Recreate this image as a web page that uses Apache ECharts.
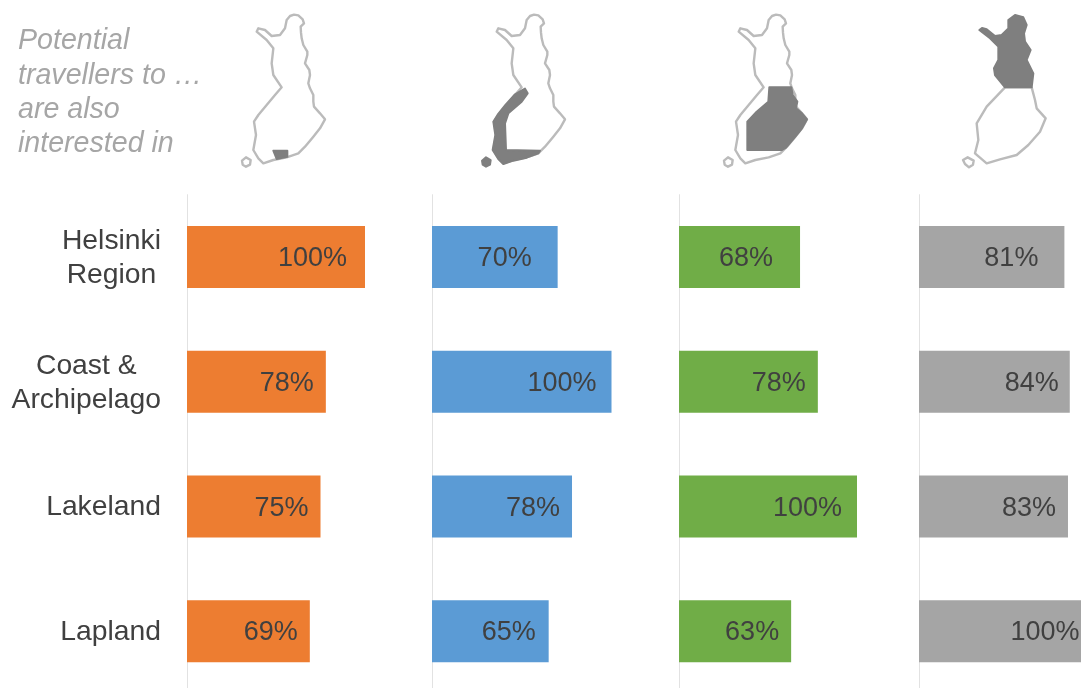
<!DOCTYPE html>
<html>
<head>
<meta charset="utf-8">
<style>html,body{margin:0;padding:0;background:#fff}#chart{width:1081px;height:688px}</style>
<script src="https://cdn.jsdelivr.net/npm/echarts@6/dist/echarts.min.js"></script>
</head>
<body>
<div id="chart"></div>
<script>
// Regions, in top-to-bottom order
const categories = ['Helsinki\nRegion', 'Coast &\nArchipelago', 'Lakeland', 'Lapland'];

// Share of potential travellers, one array per destination region
const helsinkiValues = [100, 78, 75, 69];
const coastValues = [70, 100, 78, 65];
const lakelandValues = [68, 78, 100, 63];
const laplandValues = [81, 84, 83, 100];

// Gap between each value label and the end of its bar
const labelInsets = [
  [18, 12, 12, 12],
  [26, 15, 12, 13],
  [27, 12, 15, 12],
  [26, 11, 12, 19]
];

const panelLefts = [187, 432, 679, 919];
const panelWidths = [178, 179.5, 178, 179.5];
const panelColors = ['#ED7D31', '#5B9BD5', '#70AD47', '#A5A5A5'];
const panelValues = [helsinkiValues, coastValues, lakelandValues, laplandValues];

// Finland silhouette and its travel regions, traced on a small local grid
const mapOutline = [[180,48],[192,44],[205,46],[218,58],[222,70],[212,80],[213,98],[215,115],[220,135],[232,155],[232,165],[225,190],[238,210],[240,225],[235,250],[240,265],[250,285],[250,305],[252,320],[270,340],[285,358],[270,385],[250,410],[225,440],[205,460],[170,472],[130,480],[100,490],[85,475],[70,450],[78,405],[72,365],[85,345],[110,315],[135,285],[155,262],[130,225],[125,190],[130,145],[110,120],[80,95],[85,85],[105,90],[125,108],[150,105],[165,85],[170,60]];
const mapSouth = [[144,262],[224,262],[234,300],[239,325],[266,355],[249,395],[214,435],[179,465],[129,478],[89,490],[54,460],[64,420],[59,370],[89,320]];
const mapIsland = [[36,482],[48,472],[62,480],[60,494],[48,500],[38,494]];
const mapIslandWest = [[18,480],[32,472],[50,482],[48,494],[36,502],[24,492]];
const helsinkiArea = [[130,452],[172,452],[172,470],[140,477]];
const coastArea = [[165,266],[173,280],[155,305],[115,340],[105,370],[108,450],[210,452],[205,460],[170,473],[130,482],[100,492],[85,477],[68,450],[76,405],[70,365],[83,344],[107,314],[134,284]];
const lakelandArea = [[172,262],[238,262],[242,285],[256,305],[252,325],[270,340],[285,358],[270,385],[250,410],[222,443],[209,450],[106,450],[106,365],[134,335],[169,305]];
const laplandArea = [[144,262],[114,225],[111,205],[124,180],[124,140],[99,115],[67,90],[75,84],[89,88],[114,108],[134,105],[154,85],[154,60],[174,45],[199,52],[209,75],[201,100],[204,125],[221,150],[209,180],[229,220],[224,262]];
const mapAreas = [helsinkiArea, coastArea, lakelandArea, laplandArea];
const mapLefts = [230, 470, 712, 957];

const scale3 = pts => pts.map(p => [p[0] / 3, p[1] / 3]);

// Category labels stack their lines centred while the block stays flush right,
// so each shorter line gets a spacer of half the width difference
const categoryFont = '28.3px "Liberation Sans"';
const measureCtx = document.createElement('canvas').getContext('2d');
measureCtx.font = categoryFont;
const textWidth = s => measureCtx.measureText(s).width;
const labelRich = { c: { fontFamily: 'Liberation Sans', fontSize: 28.3, lineHeight: 34, color: '#404040', padding: [2, 0, 0, 0] } };
const formatCategory = value => {
  const lines = value.split('\n');
  const widest = Math.max(...lines.map(textWidth));
  return lines.map(line => {
    const pad = (widest - textWidth(line)) / 2;
    if (pad < 0.5) return '{c|' + line + '}';
    const key = 'pad' + Math.round(pad);
    labelRich[key] = { width: pad, height: 1 };
    return '{c|' + line + '}{' + key + '|}';
  }).join('\n');
};
categories.forEach(formatCategory);

const grids = [], xAxes = [], yAxes = [], series = [], graphics = [];
panelValues.forEach((values, i) => {
  grids.push({ left: panelLefts[i], top: 194.7, width: panelWidths[i], height: 499, outerBoundsMode: 'none' });
  xAxes.push({ gridIndex: i, type: 'value', min: 0, max: 100, show: false });
  yAxes.push({
    gridIndex: i, type: 'category', inverse: true, data: categories,
    axisLine: { show: true, lineStyle: { color: '#E2E2E2', width: 1 } },
    axisTick: { show: false },
    axisLabel: i === 0 ? {
      show: true, margin: 26, interval: 0, formatter: formatCategory, rich: labelRich
    } : { show: false }
  });
  series.push({
    type: 'bar', xAxisIndex: i, yAxisIndex: i, barWidth: 62,
    itemStyle: { color: panelColors[i] }, silent: true,
    data: values.map((v, k) => ({
      value: v,
      label: {
        show: true, position: 'insideRight', distance: labelInsets[i][k], offset: [0, 1.5],
        formatter: '{c}%', fontFamily: 'Liberation Sans', fontSize: 27, color: '#404040'
      }
    }))
  });

  // Locator map above the panel
  const light = { fill: '#fff', stroke: '#BBBBBB', lineWidth: 2.4, lineJoin: 'round' };
  const dark = { fill: '#7F7F7F', stroke: '#7F7F7F', lineWidth: 2, lineJoin: 'round' };
  graphics.push({
    type: 'group', x: mapLefts[i], y: 0, silent: true,
    children: [
      { type: 'polygon', shape: { points: scale3(i === 3 ? mapSouth : mapOutline) }, style: light },
      { type: 'polygon', shape: { points: scale3(i === 3 ? mapIslandWest : mapIsland) }, style: i === 1 ? dark : light },
      { type: 'polygon', shape: { points: scale3(mapAreas[i]) }, style: dark }
    ]
  });
});

// Caption beside the first map
['Potential', 'travellers to …', 'are also', 'interested in'].forEach((line, i) => {
  graphics.push({
    type: 'text', x: 18, y: 41.5 + i * 34.3, silent: true,
    style: {
      text: line, fill: '#A6A6A6', fontFamily: 'Liberation Sans', fontStyle: 'italic',
      fontSize: 28.6, verticalAlign: 'middle'
    }
  });
});

const chart = echarts.init(document.getElementById('chart'), null, { renderer: 'canvas' });
chart.setOption({
  animation: false,
  backgroundColor: '#fff',
  grid: grids, xAxis: xAxes, yAxis: yAxes, series: series, graphic: graphics
});
</script>
</body>
</html>
